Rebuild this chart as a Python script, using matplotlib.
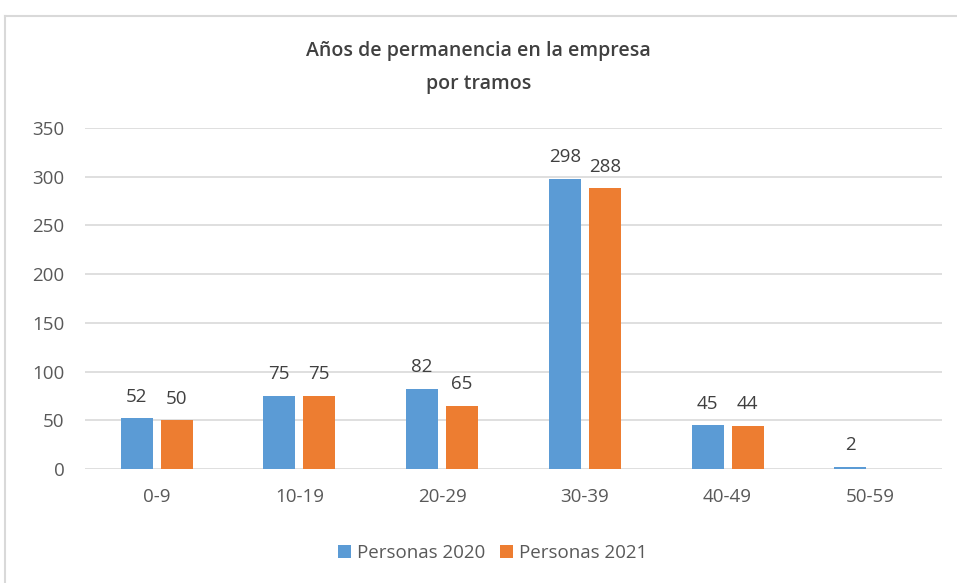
import numpy as np
import matplotlib.pyplot as plt
from matplotlib.lines import Line2D

categories = ["0-9", "10-19", "20-29", "30-39", "40-49", "50-59"]
personas_2020 = [52, 75, 82, 298, 45, 2]
personas_2021 = [50, 75, 65, 288, 44, 0]

BLUE = "#5B9BD5"
ORANGE = "#ED7D31"
TEXT = "#595959"

plt.rcParams["font.family"] = ["Open Sans", "DejaVu Sans"]

fig = plt.figure(figsize=(9.57, 5.83), dpi=100)
ax = fig.add_axes([0.089, 0.1955, 0.895, 0.585])

x = np.arange(len(categories))
w = 0.224
gap = 0.056
b1 = ax.bar(x - w / 2 - gap / 2, personas_2020, w, color=BLUE, label="Personas 2020", zorder=3)
b2 = ax.bar(x + w / 2 + gap / 2, personas_2021, w, color=ORANGE, label="Personas 2021", zorder=3)

for bars, vals in ((b1, personas_2020), (b2, personas_2021)):
    for rect, v in zip(bars, vals):
        if v == 0:
            continue
        ax.text(rect.get_x() + rect.get_width() / 2, v + 13, str(v),
                ha="center", va="bottom", fontsize=13.5, color="#404040")

ax.set_xlim(-0.5, len(categories) - 0.5)
ax.set_ylim(0, 350)
ax.set_yticks(range(0, 351, 50))
ax.set_xticks(x)
ax.set_xticklabels(categories)
ax.tick_params(axis="both", length=0, labelsize=13.5, colors=TEXT)
ax.tick_params(axis="x", pad=14)
ax.tick_params(axis="y", pad=15)
ax.grid(axis="y", color="#D9D9D9", linewidth=1.2, zorder=0)
for s in ax.spines.values():
    s.set_visible(False)

fig.text(0.5, 0.884, "Años de permanencia en la empresa\npor tramos", ha="center", va="center",
         fontsize=14, color="#404040", linespacing=1.85, fontweight="semibold")

fig.legend(handles=[b1, b2], loc="center", bbox_to_anchor=(0.515, 0.052), ncol=2, frameon=False,
           fontsize=13.5, handlelength=0.7, handleheight=0.7, handletextpad=0.3, columnspacing=0.8,
           labelcolor=TEXT)

# chart border
fig.add_artist(Line2D([5 / 957, 5 / 957], [0, 1 - 16 / 583], color="#D9D9D9", lw=1.5, transform=fig.transFigure))
fig.add_artist(Line2D([5 / 957, 1], [1 - 16 / 583, 1 - 16 / 583], color="#D9D9D9", lw=1.5, transform=fig.transFigure))

fig.savefig("out.png", dpi=100)
